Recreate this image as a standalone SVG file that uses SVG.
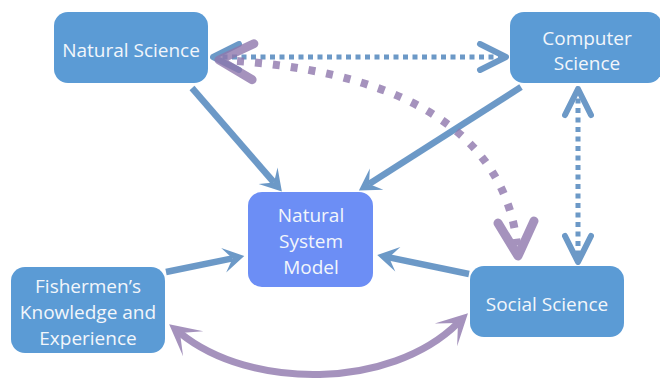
<svg xmlns="http://www.w3.org/2000/svg" width="660" height="380" viewBox="0 0 660 380">
<style>
.node{fill:#5b9bd5;}
.model{fill:#6c8ef5;}
.lbl{font-family:"Open Sans","Liberation Sans",sans-serif;font-size:19px;fill:#f2f6fb;text-anchor:middle;}
.solidB{fill:none;stroke:#5388be;stroke-width:6.5;}
.dotB{fill:none;stroke:#5388be;stroke-width:5;stroke-dasharray:5 4.5;}
.solidP{fill:none;stroke:#8f78ad;stroke-width:7;}
.dotP{fill:none;stroke:#8f78ad;stroke-width:8;stroke-dasharray:7 11;}
.cB{opacity:0.85;}
.cP{opacity:0.8;}
</style>
<defs>
<marker id="stB" markerUnits="userSpaceOnUse" orient="auto" refX="0" refY="0" markerWidth="40" markerHeight="40" overflow="visible">
<path d="M12,0 L-9,-12.5 L0,0 L-9,12.5 Z" fill="#5388be"/>
</marker>
<marker id="stP" markerUnits="userSpaceOnUse" orient="auto-start-reverse" refX="0" refY="0" markerWidth="50" markerHeight="50" overflow="visible">
<path d="M14,0 L-17,-16 L0,0 L-17,16 Z" fill="#8f78ad"/>
</marker>
<marker id="chB" markerUnits="userSpaceOnUse" orient="auto-start-reverse" refX="0" refY="0" markerWidth="50" markerHeight="50" overflow="visible">
<path d="M-26,-13 L0,0 L-26,13" fill="none" stroke="#5388be" stroke-width="6" stroke-linecap="round" stroke-linejoin="round"/>
</marker>
<marker id="chP" markerUnits="userSpaceOnUse" orient="auto-start-reverse" refX="0" refY="0" markerWidth="60" markerHeight="60" overflow="visible">
<path d="M-34,-18 L0,0 L-34,18" fill="none" stroke="#8f78ad" stroke-width="9" stroke-linecap="round" stroke-linejoin="round"/>
</marker>
</defs>
<rect width="660" height="380" fill="#ffffff"/>
<g id="nodes">
<g id="natural-science">
<rect class="node" x="54" y="12" width="154" height="71" rx="14"/>
<text class="lbl" x="131" y="57">Natural Science</text>
</g>
<g id="computer-science">
<rect class="node" x="510" y="12" width="152" height="71" rx="14"/>
<text class="lbl" x="587" y="44.5">Computer</text>
<text class="lbl" x="587" y="70">Science</text>
</g>
<g id="natural-system-model">
<rect class="model" x="248" y="192" width="125" height="95" rx="14"/>
<text class="lbl" x="311" y="222">Natural</text>
<text class="lbl" x="311" y="248">System</text>
<text class="lbl" x="311" y="274">Model</text>
</g>
<g id="fishermen">
<rect class="node" x="11" y="267" width="154" height="86" rx="14"/>
<text class="lbl" x="88" y="293">Fishermen’s</text>
<text class="lbl" x="88" y="319">Knowledge and</text>
<text class="lbl" x="88" y="345">Experience</text>
</g>
<g id="social-science">
<rect class="node" x="470" y="266" width="154" height="71" rx="14"/>
<text class="lbl" x="547" y="311">Social Science</text>
</g>
</g>
<g id="connectors">
<g class="cB"><path class="solidB" d="M192,88 L274,182.5" marker-end="url(#stB)"/></g>
<g class="cB"><path class="solidB" d="M521,87 L369,184" marker-end="url(#stB)"/></g>
<g class="cB"><path class="solidB" d="M166,272 L232.5,258.4" marker-end="url(#stB)"/></g>
<g class="cB"><path class="solidB" d="M469,274 L389,257.4" marker-end="url(#stB)"/></g>
<g class="cP"><path class="solidP" d="M180,333 C250,390 390,390 458,323" marker-start="url(#stP)" marker-end="url(#stP)"/></g>
<g class="cB"><path class="dotB" d="M213,57 L506,57" marker-start="url(#chB)" marker-end="url(#chB)"/></g>
<g class="cB"><path class="dotB" d="M578,89 L578,262" marker-start="url(#chB)" marker-end="url(#chB)"/></g>
<g class="cP"><path class="dotP" d="M219,60 C380,68 510,120 518,256" marker-start="url(#chP)" marker-end="url(#chP)"/></g>
</g>
</svg>
